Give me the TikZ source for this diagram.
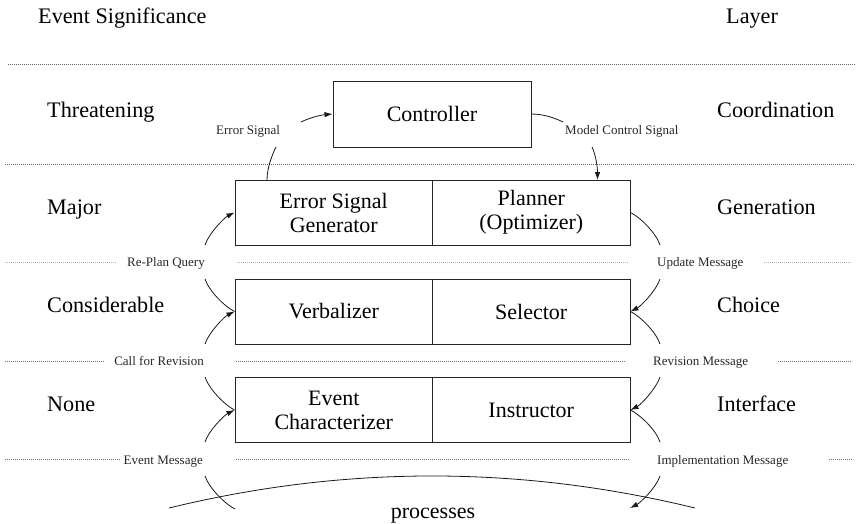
\documentclass[tikz,border=0pt]{standalone}
\usepackage{fontspec}
\setmainfont{Liberation Serif}
\usetikzlibrary{arrows.meta}
\begin{document}
\begin{tikzpicture}[x=1pt,y=-1pt,
  box/.style={draw=black!85, line width=0.9pt, minimum width=197.5pt, minimum height=65pt,
    inner sep=0pt, align=center, font=\fontsize{22}{24}\selectfont},
  big/.style={inner sep=0pt, font=\fontsize{22.2}{24}\selectfont},
  small/.style={inner sep=0pt, font=\fontsize{13}{15}\selectfont, text=black!85},
  conn/.style={line width=0.8pt, black!90},
  arr/.style={conn, -{Latex[length=8pt,width=5.5pt]}},
  sep/.style={line width=0.7pt, dash pattern=on 0.7pt off 1.3pt},
]
\useasboundingbox (0,0) rectangle (856,523);

% layer separators
\draw[sep, black!60] (8,64) -- (856,64);
\draw[sep, black!60] (5,164) -- (854,164);
\draw[sep, black!30] (5,262) -- (117,262);
\draw[sep, black!30] (237,262) -- (629,262);
\draw[sep, black!30] (764,262) -- (852,262);
\draw[sep, black!55] (5,361) -- (104,361);
\draw[sep, black!55] (236,361) -- (626,361);
\draw[sep, black!55] (778,361) -- (852,361);
\draw[sep, black!55] (5,459) -- (121,459);
\draw[sep, black!55] (236,459) -- (629,459);
\draw[sep, black!55] (829,459) -- (852,459);

% column headers
\node[big, anchor=base west] (hsig) at (38,23) {Event Significance};
\node[big, anchor=base west] (hlay) at (726,23) {Layer};

% significance levels
\node[big, anchor=base west] (sig0) at (47,117) {Threatening};
\node[big, anchor=base west] (sig1) at (47,214) {Major};
\node[big, anchor=base west] (sig2) at (47,312) {Considerable};
\node[big, anchor=base west] (sig3) at (47,411) {None};

% layers
\node[big, anchor=base west] (lay0) at (717,117) {Coordination};
\node[big, anchor=base west] (lay1) at (717,214) {Generation};
\node[big, anchor=base west] (lay2) at (717,312) {Choice};
\node[big, anchor=base west] (lay3) at (717,411) {Interface};

% modules
\node[box, minimum width=198pt, minimum height=66pt] (ctrl) at (432,114) {Controller};
\node[box] (esg) at (333.75,212.5) {Error Signal\\Generator};
\node[box] (plan) at (531.25,212.5) {Planner\\(Optimizer)};
\node[box] (verb) at (333.75,311.5) {Verbalizer};
\node[box] (sel) at (531.25,311.5) {Selector};
\node[box] (evc) at (333.75,410) {Event\\Characterizer};
\node[box] (ins) at (531.25,410) {Instructor};

% message labels
\node[small, anchor=base west] (lerr) at (216,134) {Error Signal};
\node[small, anchor=base west] (lmcs) at (565,134) {Model Control Signal};
\node[small, anchor=base east] (lrpq) at (205,266) {Re-Plan Query};
\node[small, anchor=base east] (lcfr) at (204,365) {Call for Revision};
\node[small, anchor=base east] (levm) at (203,464) {Event Message};
\node[small, anchor=base west] (lupd) at (657,266) {Update Message};
\node[small, anchor=base west] (lrev) at (653,365) {Revision Message};
\node[small, anchor=base west] (limp) at (657,464) {Implementation Message};

% free ends of the message arcs
\coordinate (es1) at (267,180);
\coordinate (es2) at (276,147);
\coordinate (es3) at (301,122);
\coordinate (mc1) at (563,122);
\coordinate (mc2) at (592,147);
\coordinate (mc3) at (597.5,180);
\coordinate (la1) at (205,245);
\coordinate (la2) at (205,279);
\coordinate (lb1) at (205,344);
\coordinate (lb2) at (205,377);
\coordinate (lc1) at (205,442);
\coordinate (lc2) at (205,476);
\coordinate (lc3) at (235,509);
\coordinate (ra1) at (660,245);
\coordinate (ra2) at (660,279);
\coordinate (rb1) at (660,344);
\coordinate (rb2) at (660,377);
\coordinate (rc1) at (660,442);
\coordinate (rc2) at (660,476);
\coordinate (rc3) at (630,508);

% error signal up to the controller
\draw[conn] (es1) .. controls +(0,-12) and +(-4,8) .. (es2);
\draw[arr] (es3) .. controls +(8,-4) and +(-12,1) .. (ctrl.west);
% model control signal down to the planner
\draw[conn] (ctrl.east) .. controls +(12,0) and +(-8,-4) .. (mc1);
\draw[arr] (mc2) .. controls +(4,8) and +(0,-12) .. (mc3);

% messages on the left side
\draw[arr] (la1) .. controls +(4,-12) and +(-10,5) .. (esg.west);
\draw[conn] (la2) .. controls +(4,12) and +(-10,-5) .. (verb.west);
\draw[arr] (lb1) .. controls +(4,-12) and +(-10,5) .. (verb.west);
\draw[conn] (lb2) .. controls +(4,12) and +(-10,-5) .. (evc.west);
\draw[arr] (lc1) .. controls +(4,-12) and +(-10,5) .. (evc.west);
\draw[conn] (lc2) .. controls +(4,12) and +(-10,-5) .. (lc3);

% messages on the right side
\draw[conn] (plan.east) .. controls +(10,5) and +(-4,-12) .. (ra1);
\draw[arr] (ra2) .. controls +(-4,12) and +(10,-5) .. (sel.east);
\draw[conn] (sel.east) .. controls +(10,5) and +(-4,-12) .. (rb1);
\draw[arr] (rb2) .. controls +(-4,12) and +(10,-5) .. (ins.east);
\draw[conn] (ins.east) .. controls +(10,5) and +(-4,-12) .. (rc1);
\draw[arr] (rc2) .. controls +(-4,12) and +(10,-5) .. (rc3);

% the controlled processes
\coordinate (pl) at (169,508);
\coordinate (pr) at (695,508);
\draw[conn] (pl) .. controls (344.3,465.3) and (519.7,465.3) .. (pr);
\node[inner sep=0pt, anchor=base, font=\fontsize{22}{24}\selectfont] (proc) at (433,518) {processes};
\end{tikzpicture}
\end{document}
